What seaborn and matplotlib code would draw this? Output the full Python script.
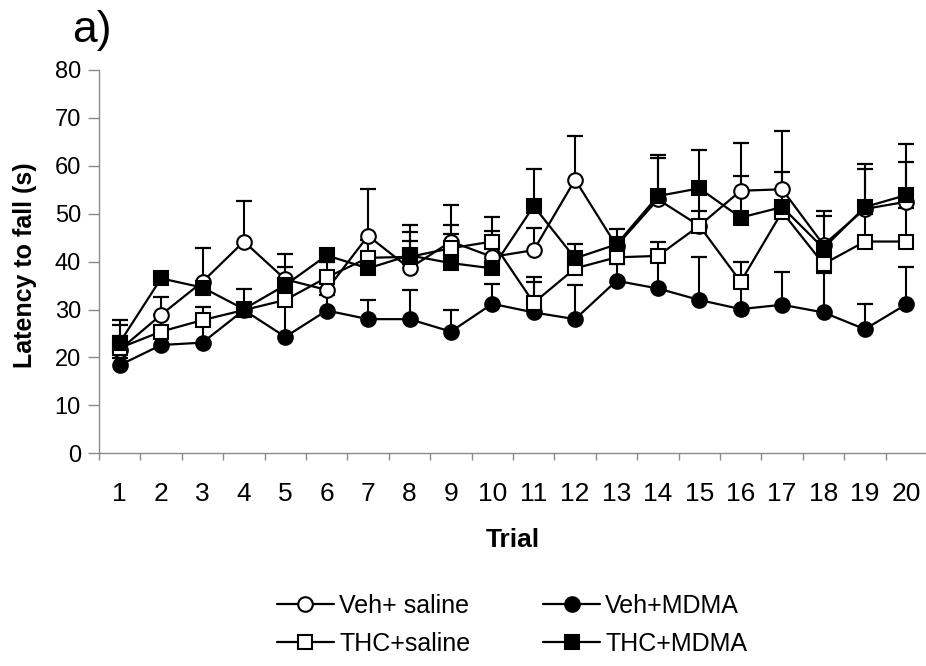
import numpy as np
import pandas as pd
import matplotlib
matplotlib.use("Agg")
import matplotlib.pyplot as plt
import seaborn as sns
from matplotlib.lines import Line2D

# ---------------- data ----------------
trials = list(range(1, 21))
groups = ["Veh+ saline", "Veh+MDMA", "THC+saline", "THC+MDMA"]

veh_saline = [21.6, 28.9, 35.8, 44.2, 36.3, 34.1, 45.4, 38.6, 44.2, 41.0,
              42.4, 57.1, 43.3, 53.0, 47.5, 54.8, 55.1, 43.5, 51.0, 52.5]
veh_saline_top = [26.8, 32.6, 42.9, 52.7, 41.7, 35.5, 55.2, 47.7, 51.8, 46.5,
                  47.0, 66.2, 45.0, 61.6, 50.5, 64.8, 67.3, 49.6, 59.4, 60.7]

veh_mdma = [18.4, 22.6, 23.1, 29.9, 24.3, 29.8, 28.0, 28.0, 25.4, 31.2,
            29.4, 28.0, 36.0, 34.4, 32.0, 30.1, 31.0, 29.4, 25.9, 31.1]
veh_mdma_top = [19.8, 24.5, 26.5, 31.0, 31.0, 33.0, 32.0, 34.1, 29.9, 35.3,
                35.7, 35.1, 39.5, 40.0, 40.9, 34.5, 37.9, 37.6, 31.2, 38.8]

thc_saline = [22.0, 25.4, 27.8, 29.9, 32.0, 36.7, 40.8, 41.0, 42.8, 44.2,
              31.4, 38.6, 40.9, 41.2, 47.5, 35.8, 50.4, 39.5, 44.2, 44.2]
thc_saline_top = [24.5, 28.9, 30.6, 31.0, 34.5, 40.0, 44.5, 46.1, 47.7, 49.3,
                  36.7, 41.0, 43.5, 44.2, 54.5, 40.0, 52.0, 42.0, 50.5, 51.2]

thc_mdma = [23.1, 36.5, 34.6, 30.1, 35.1, 41.3, 38.6, 41.3, 39.7, 38.6,
            51.6, 40.7, 43.6, 53.7, 55.3, 49.2, 51.4, 42.8, 51.4, 53.9]
thc_mdma_top = [27.8, 37.5, 36.0, 34.2, 38.8, 42.5, 40.0, 44.3, 45.8, 40.0,
                59.4, 43.7, 46.8, 62.3, 63.2, 57.8, 58.7, 50.6, 60.3, 64.5]

y_ticks = [0, 10, 20, 30, 40, 50, 60, 70, 80]

means = [veh_saline, veh_mdma, thc_saline, thc_mdma]
tops = [veh_saline_top, veh_mdma_top, thc_saline_top, thc_mdma_top]

df = pd.concat(
    [pd.DataFrame({"trial": trials, "mean": m, "top": t, "group": g})
     for g, m, t in zip(groups, means, tops)],
    ignore_index=True,
)

# ---------------- styling ----------------
sns.set_theme(style="white")
plt.rcParams["font.family"] = ["Liberation Sans", "DejaVu Sans"]
plt.rcParams.update({"text.color": "black", "axes.labelcolor": "black",
                     "xtick.color": "black", "ytick.color": "black"})

styles = {
    "Veh+ saline": dict(marker="o", mfc="white"),
    "Veh+MDMA": dict(marker="o", mfc="black"),
    "THC+saline": dict(marker="s", mfc="white"),
    "THC+MDMA": dict(marker="s", mfc="black"),
}
msize = {"o": 10.5, "s": 10.0}

W, H = 926, 666
fig = plt.figure(figsize=(W / 100, H / 100), dpi=100)
ax_left, ax_right = 99.0, 927.0
ax_bottom, ax_top = 453.3, 70.0
ax = fig.add_axes([ax_left / W, 1 - ax_bottom / H,
                   (ax_right - ax_left) / W, (ax_bottom - ax_top) / H])

# error bars (upper only) below everything
for g in groups:
    d = df[df["group"] == g]
    ax.vlines(d["trial"], d["mean"], d["top"], color="black", lw=1.5, zorder=2)
    ax.plot(d["trial"], d["top"], linestyle="none", marker="_",
            markersize=11, markeredgewidth=1.6, color="black", zorder=2)

# connecting lines
for g in groups:
    d = df[df["group"] == g]
    sns.lineplot(data=d, x="trial", y="mean", ax=ax, color="black",
                 lw=1.6, errorbar=None, zorder=3, legend=False)

# markers on top, in series order
handles = {}
for i, g in enumerate(groups):
    d = df[df["group"] == g]
    st = styles[g]
    sns.lineplot(data=d, x="trial", y="mean", ax=ax, color="black",
                 linestyle="none", marker=st["marker"],
                 markersize=msize[st["marker"]],
                 markerfacecolor=st["mfc"], markeredgecolor="black",
                 markeredgewidth=1.5, errorbar=None, zorder=5 + i,
                 legend=False)
    handles[g] = Line2D([0], [0], color="black", lw=1.6,
                        marker=st["marker"], markersize=msize[st["marker"]],
                        markerfacecolor=st["mfc"], markeredgecolor="black",
                        markeredgewidth=1.5)

# axes
ax.set_xlim(0.5, 20.5)
ax.set_ylim(0, 80)
ax.set_yticks(y_ticks)
ax.set_yticklabels([str(v) for v in y_ticks], fontsize=17)
ax.set_xticks(trials)
ax.set_xticklabels([str(t) for t in trials])
for lbl in ax.get_xticklabels():
    lbl.set_family(["Liberation Sans Narrow", "Liberation Sans"])
    lbl.set_fontsize(19)
ax.set_xticks([t - 0.5 for t in trials] + [trials[-1] + 0.5], minor=True)

spine_c = "#8a8a8a"
for s in ["top", "right"]:
    ax.spines[s].set_visible(False)
for s in ["left", "bottom"]:
    ax.spines[s].set_color(spine_c)
    ax.spines[s].set_linewidth(1.0)

ax.tick_params(axis="x", which="major", length=0, pad=21, labelcolor="black")
ax.tick_params(axis="x", which="minor", length=5, width=1.0, color=spine_c,
               direction="out", bottom=True)
ax.tick_params(axis="y", which="major", length=8, width=1.0, color=spine_c,
               direction="out", pad=5, left=True, labelcolor="black")
ax.grid(False)

ax.set_xlabel("Trial", fontsize=19, fontweight="bold", color="black")
ax.xaxis.set_label_coords(0.5, (ax_bottom - 528.0) / (ax_bottom - ax_top))
ax.set_ylabel("Latency to fall (s)", fontsize=18, fontweight="bold",
              color="black")
ax.yaxis.set_label_coords((37.0 - ax_left) / (ax_right - ax_left),
                          (ax_bottom - 265.0) / (ax_bottom - ax_top))

fig.text(72 / W, 1 - 42 / H, "a)", fontsize=32, ha="left", va="baseline",
         color="black")

order = ["Veh+ saline", "THC+saline", "Veh+MDMA", "THC+MDMA"]
fig.legend([handles[g] for g in order], order, ncol=2, loc="center",
           bbox_to_anchor=(512 / W, 1 - 625 / H), frameon=False,
           fontsize=18, handlelength=2.3, handletextpad=0.2,
           columnspacing=2.9, labelspacing=0.55, borderpad=0,
           labelcolor="black")

fig.savefig("out.png", dpi=100, facecolor="white")
